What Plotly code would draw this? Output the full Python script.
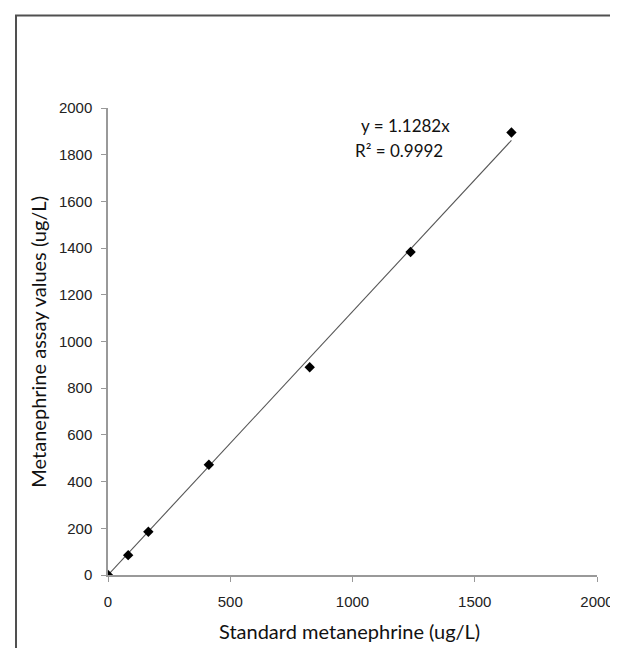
import plotly.graph_objects as go

# Data
standard = [0, 82.5, 165, 412.5, 825, 1237.5, 1650]
assay = [0, 85, 185, 472, 890, 1383, 1895]
slope = 1.1282
r2 = 0.9992
x_ticks = [0, 500, 1000, 1500, 2000]
y_ticks = [0, 200, 400, 600, 800, 1000, 1200, 1400, 1600, 1800, 2000]

W, H = 618, 648
L, R, T, B = 100, 21, 100, 81
pw, ph = W - L - R, H - T - B


def px(x):
    return (x - L) / pw


def py(y):
    return (H - B - y) / ph


fig = go.Figure()
line_x = [0, max(standard)]
fig.add_trace(go.Scatter(x=line_x, y=[slope * v for v in line_x], mode="lines",
                         line=dict(color="#555555", width=1.1), hoverinfo="skip", showlegend=False))
fig.add_trace(go.Scatter(x=standard, y=assay, mode="markers",
                         marker=dict(symbol="diamond", size=8, color="black"), showlegend=False))

axis_common = dict(showgrid=False, zeroline=False, showline=True, linecolor="#999999", linewidth=1.5,
                   ticks="outside", ticklen=5, tickcolor="#999999", tickwidth=1,
                   tickfont=dict(family="Liberation Sans, Arial", size=15, color="#222222"))
fig.update_xaxes(range=[0, 2000], tickvals=x_ticks, ticktext=[str(v) for v in x_ticks],
                 ticklabelstandoff=7, **axis_common)
fig.update_yaxes(range=[0, 2000], tickvals=y_ticks, ticktext=[str(v) for v in y_ticks],
                 ticklabelstandoff=6, **axis_common)

title_font = dict(family="Lato, Open Sans", size=20, color="#111111")
eq_font = dict(family="Lato, Open Sans", size=17, color="#111111")
ann = [
    dict(text="Standard metanephrine (ug/L)", x=px(345), y=py(623), xref="paper", yref="paper",
         showarrow=False, font=title_font, xanchor="center", yanchor="middle"),
    dict(text="Metanephrine assay values (ug/L)", x=px(28), y=0.5, xref="paper", yref="paper",
         showarrow=False, font=title_font, textangle=-90, xanchor="center", yanchor="middle"),
    dict(text=f"y = {slope}x", x=px(450), y=py(118), xref="paper", yref="paper",
         showarrow=False, font=eq_font, xanchor="right", yanchor="middle"),
    dict(text=f"R² = {r2}", x=px(443), y=py(142), xref="paper", yref="paper",
         showarrow=False, font=eq_font, xanchor="right", yanchor="middle"),
]

shapes = [dict(type="path", xref="paper", yref="paper",
               path=f"M {px(6.5)} {py(648)} L {px(6.5)} {py(7.5)} L {px(618)} {py(7.5)}",
               line=dict(color="#505050", width=2))]

fig.update_layout(width=W, height=H, margin=dict(l=L, r=R, t=T, b=B),
                  paper_bgcolor="white", plot_bgcolor="white",
                  annotations=ann, shapes=shapes, showlegend=False)

fig.write_html("out.html")
